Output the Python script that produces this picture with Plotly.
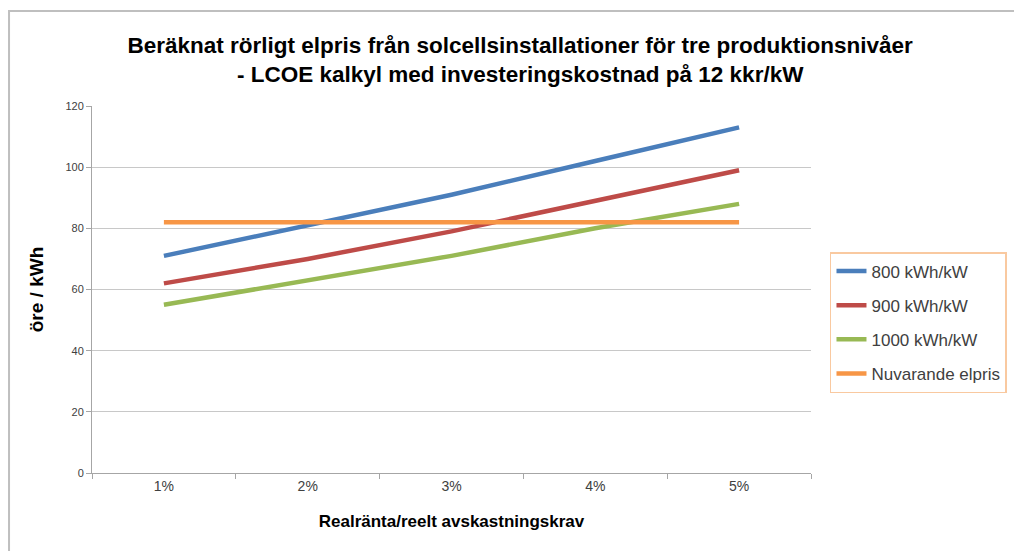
import plotly.graph_objects as go

# Real interest rate scenarios (x categories)
rates = ["1%", "2%", "3%", "4%", "5%"]

# Levelized cost of electricity, öre/kWh, per annual production level
lcoe_800 = [71, 81, 91, 102, 113]
lcoe_900 = [62, 70, 79, 89, 99]
lcoe_1000 = [55, 63, 71, 80, 88]
current_price = [82, 82, 82, 82, 82]

series = [
    ("800 kWh/kW", lcoe_800, "#4A7EBB"),
    ("900 kWh/kW", lcoe_900, "#BE4B48"),
    ("1000 kWh/kW", lcoe_1000, "#98B954"),
    ("Nuvarande elpris", current_price, "#F79646"),
]

font_main = "Liberation Sans, Arial, sans-serif"

fig = go.Figure()
for i, (name, vals, color) in enumerate(series):
    fig.add_trace(go.Scatter(
        x=rates, y=vals, name=name, mode="lines",
        line=dict(color=color, width=4.5),
        legendgroup=f"g{i}",
    ))

fig.update_layout(
    width=1014, height=551,
    margin=dict(l=92, r=203, t=106, b=78, autoexpand=False),
    paper_bgcolor="white", plot_bgcolor="white",
    font=dict(family=font_main, color="#404040"),
    title=dict(
        text="<b>Beräknat rörligt elpris från solcellsinstallationer för tre produktionsnivåer<br>- LCOE kalkyl med investeringskostnad på 12 kkr/kW</b>",
        x=0.513, xanchor="center", y=0.904, yanchor="middle",
        font=dict(size=22.5, color="#000000", family=font_main),
    ),
    xaxis=dict(
        type="category", range=[-0.5, 4.5],
        tickson="boundaries", ticks="outside", ticklen=5, tickcolor="#A6A6A6",
        showline=True, linecolor="#A6A6A6", linewidth=1,
        showgrid=False,
        tickfont=dict(size=14, color="#404040"),
        title=dict(text="<b>Realränta/reelt avskastningskrav</b>",
                   font=dict(size=17, color="#000000"), standoff=22),
    ),
    yaxis=dict(
        range=[0, 120], dtick=20,
        ticks="outside", ticklen=5, tickcolor="#A6A6A6",
        showline=True, linecolor="#A6A6A6", linewidth=1,
        showgrid=True, gridcolor="#C8C8C8", gridwidth=1,
        zeroline=False,
        tickfont=dict(size=11, color="#404040"),
        title=dict(text="<b>öre / kWh</b>",
                   font=dict(size=19, color="#000000"), standoff=16),
    ),
    legend=dict(
        x=1.0264, xanchor="left", y=0.602, yanchor="top",
        bordercolor="#F9C9A0", borderwidth=1.5,
        font=dict(size=17, color="#404040"),
        tracegroupgap=9,
        itemwidth=30,
    ),
    shapes=[dict(
        type="rect", xref="paper", yref="paper",
        x0=-0.1154, x1=1.6, y0=-0.3, y1=1.2589,
        line=dict(color="#BFBFBF", width=2),
    )],
)

fig.write_html("out.html")
